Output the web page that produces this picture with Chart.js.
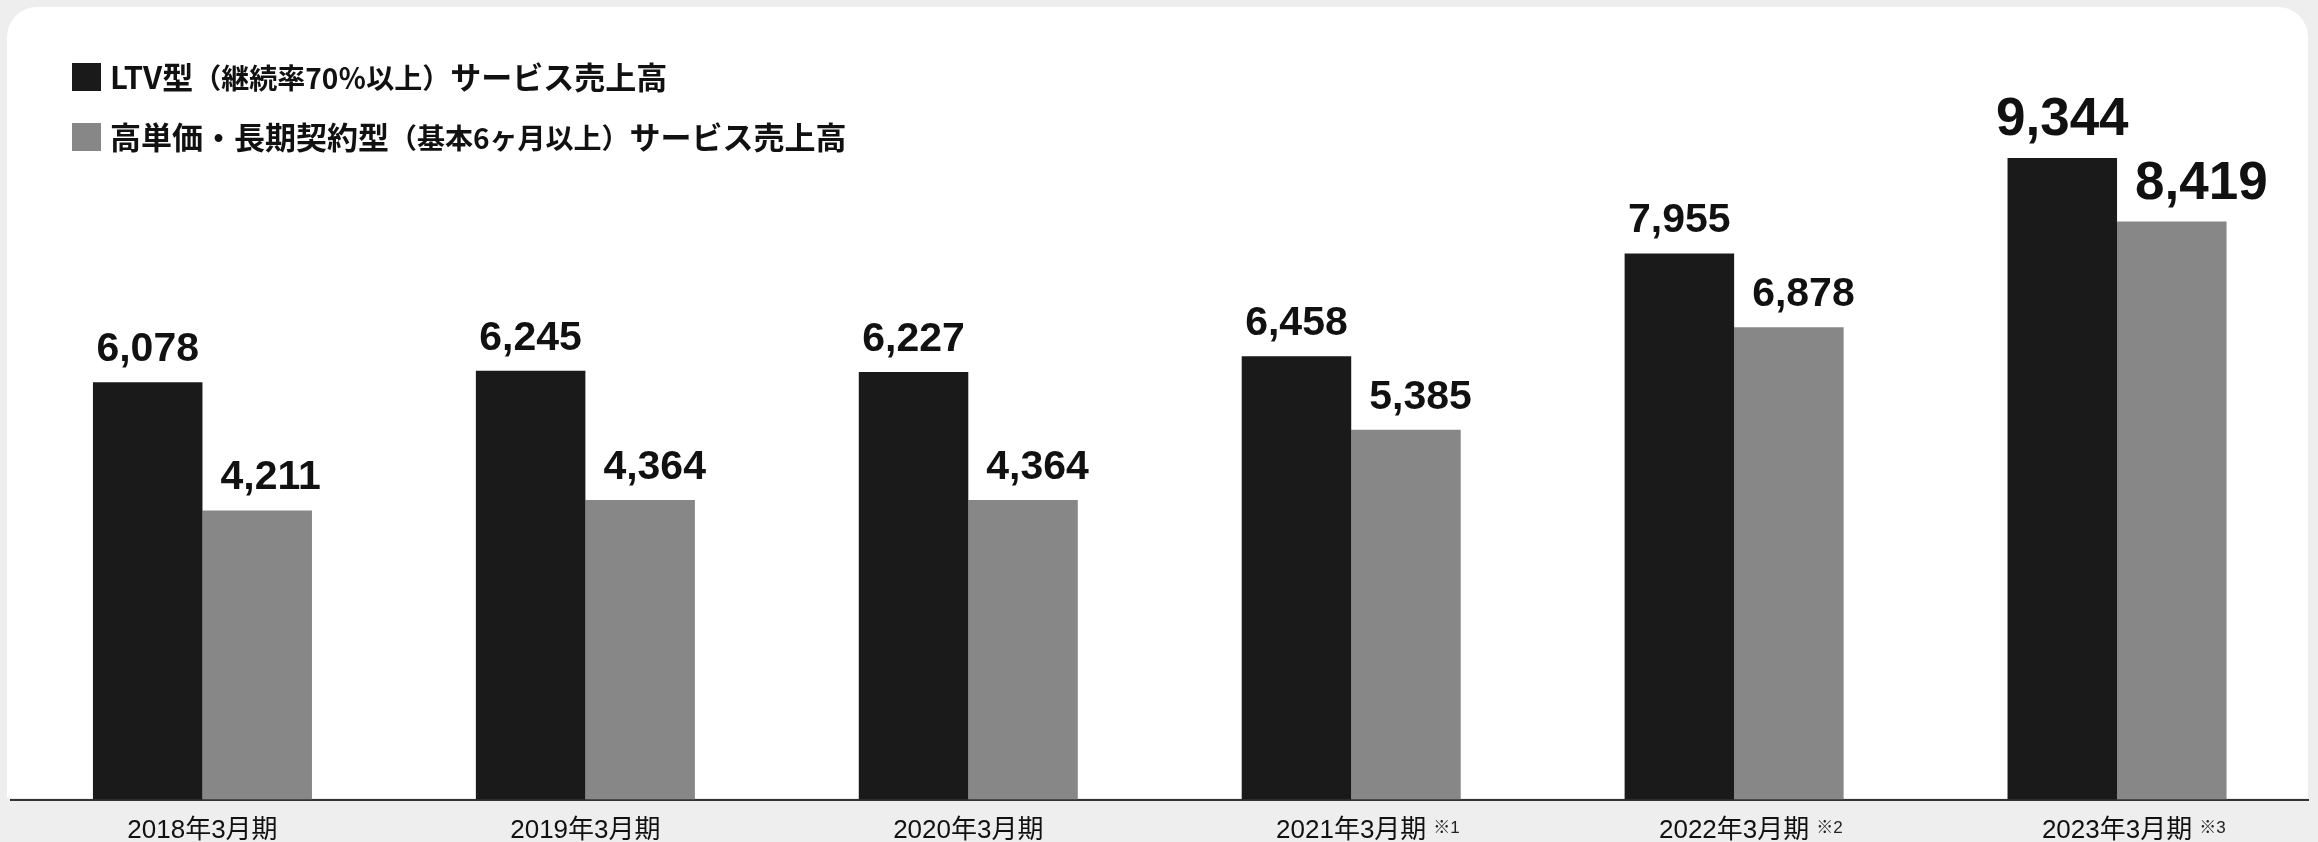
<!DOCTYPE html>
<html lang="ja">
<head>
<meta charset="utf-8">
<script src="https://cdn.jsdelivr.net/npm/chart.js@4/dist/chart.umd.min.js"></script>
<style>
  html, body { margin: 0; padding: 0; background: #eeeeee; overflow: hidden; }
  #wrap { position: relative; width: 2318px; height: 842px; overflow: hidden; }
  #card { position: absolute; left: 7px; top: 7px; width: 2301px; height: 791px;
          background: #fff; border-radius: 30px 30px 0 0; }
  #chart { position: absolute; left: 0; top: 0; }
  .legend { position: absolute; left: 72px; font-family: "Noto Sans CJK JP", sans-serif;
            font-weight: bold; color: #111; }
  .row { position: absolute; left: 0; white-space: nowrap; height: 30px; }
  .sw { position: absolute; left: 0; top: 0; width: 29px; height: 28px; }
  .txt { position: absolute; left: 38px; top: -7px; font-size: 31px; line-height: 40px; }
  .txt small { font-size: 28px; }
</style>
</head>
<body>
<div id="wrap">
  <div id="card"></div>
  <canvas id="chart" width="2318" height="870"></canvas>
  <div class="legend" id="legend"></div>
</div>
<script>
// categories and values (単位: 百万円)
let categories = ['2018年3月期', '2019年3月期', '2020年3月期', '2021年3月期', '2022年3月期', '2023年3月期'];
let notes = ['', '', '', '※1', '※2', '※3'];
let ltvSales = [6078, 6245, 6227, 6458, 7955, 9344];
let longTermSales = [4211, 4364, 4364, 5385, 6878, 8419];

let seriesNames = ['LTV型', '高単価・長期契約型'];
let seriesNotes = ['（継続率70％以上）', '（基本6ヶ月以上）'];
let seriesSuffix = 'サービス売上高';
let barColors = ['#1a1a1a', '#878787'];

// html legend
let legend = document.querySelector('#legend');
seriesNames.forEach(function(name, i){
	let row = document.createElement('div');
	row.className = 'row';
	row.style.top = (63 + i * 60) + 'px';
	row.innerHTML = '<div class="sw" style="background:' + barColors[i] + '"></div>' +
		'<div class="txt">' + name + '<small>' + seriesNotes[i] + '</small>' + seriesSuffix + '</div>';
	legend.appendChild(row);
});

let tickFont = { family: '"Liberation Sans", "Noto Sans CJK JP", sans-serif', size: 26, lineHeight: 1.2 };
let tickPad = 16;

// value labels above bars
let valueLabels = {
	id: 'valueLabels',
	afterDatasetsDraw(chart){
		let ctx = chart.ctx;
		ctx.save();
		ctx.fillStyle = '#111';
		ctx.textBaseline = 'alphabetic';
		chart.data.datasets.forEach(function(ds, di){
			let meta = chart.getDatasetMeta(di);
			meta.data.forEach(function(bar, i){
				let big = i === categories.length - 1;
				let size = big ? 53 : 41;
				ctx.font = 'bold ' + size + 'px "Liberation Sans", Arial, sans-serif';
				let text = ds.data[i].toLocaleString('en-US');
				let y = bar.y - (big ? 23 : 21);
				if (di === 0) {
					ctx.textAlign = 'center';
					ctx.fillText(text, bar.x, y);
				} else {
					ctx.textAlign = 'left';
					ctx.fillText(text, bar.x - bar.width / 2 + 18, y);
				}
			});
		});
		ctx.restore();
	}
};

// small footnote marks next to tick labels
let tickNotes = {
	id: 'tickNotes',
	afterDraw(chart){
		let ctx = chart.ctx;
		let xs = chart.scales.x;
		ctx.save();
		ctx.font = tickFont.size + 'px ' + tickFont.family;
		let mid = xs.top + tickPad + tickFont.size * tickFont.lineHeight / 2;
		notes.forEach(function(n, i){
			if (!n) return;
			let w = ctx.measureText(categories[i]).width;
			let x = xs.getPixelForValue(i) + w / 2 + 7;
			ctx.save();
			ctx.font = '17px ' + tickFont.family;
			ctx.fillStyle = '#222';
			ctx.textAlign = 'left';
			ctx.textBaseline = 'middle';
			ctx.fillText(n, x, mid - 3);
			ctx.restore();
		});
		ctx.restore();
	}
};

let chartCanvas = document.querySelector('#chart');
let contex = chartCanvas.getContext('2d');

let salesChart = new Chart(contex, {
	type: 'bar',
	data: {
		labels: categories,
		datasets: [
			{ label: seriesNames[0], data: ltvSales, backgroundColor: barColors[0] },
			{ label: seriesNames[1], data: longTermSales, backgroundColor: barColors[1] }
		]
	},
	options: {
		responsive: false,
		animation: false,
		events: [],
		categoryPercentage: 0.572,
		barPercentage: 1,
		layout: { padding: { top: 113, left: 11, right: 9.5, bottom: 7.3 } },
		plugins: { legend: { display: false }, tooltip: { enabled: false } },
		scales: {
			x: {
				grid: { display: false, drawTicks: false },
				border: { display: true, color: '#333', width: 2 },
				ticks: { color: '#111', font: tickFont, padding: tickPad, maxRotation: 0, autoSkip: false }
			},
			y: { display: false, min: 0, max: 10000 }
		}
	},
	plugins: [valueLabels, tickNotes]
});
</script>
</body>
</html>
